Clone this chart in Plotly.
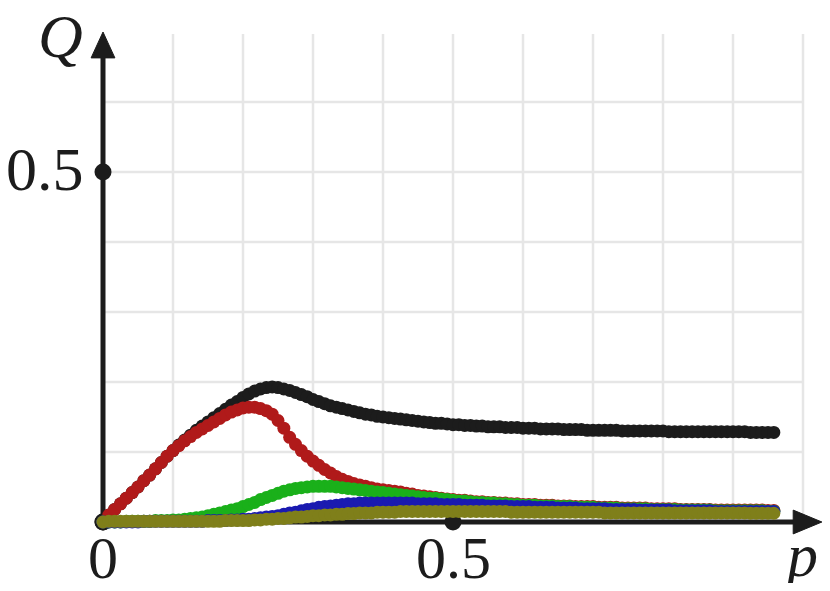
import plotly.graph_objects as go

# sample grid of the parameter p (step 1/120)
p = [k / 120 for k in range(116)]

q_black = [
    0.000, 0.010, 0.018, 0.026, 0.034, 0.042, 0.050, 0.059, 0.067, 0.076, 0.085, 0.094,
    0.102, 0.110, 0.117, 0.124, 0.131, 0.137, 0.143, 0.149, 0.155, 0.161, 0.167, 0.172,
    0.178, 0.183, 0.187, 0.190, 0.192, 0.193, 0.192, 0.190, 0.188, 0.185, 0.182, 0.179,
    0.175, 0.172, 0.169, 0.166, 0.164, 0.162, 0.160, 0.158, 0.156, 0.154, 0.153, 0.151,
    0.150, 0.149, 0.148, 0.147, 0.146, 0.145, 0.144, 0.143, 0.142, 0.141, 0.141, 0.140,
    0.139, 0.139, 0.138, 0.138, 0.137, 0.137, 0.136, 0.136, 0.136, 0.135, 0.135, 0.135,
    0.134, 0.134, 0.134, 0.133, 0.133, 0.133, 0.133, 0.132, 0.132, 0.132, 0.132, 0.131,
    0.131, 0.131, 0.131, 0.131, 0.131, 0.130, 0.130, 0.130, 0.130, 0.130, 0.130, 0.130,
    0.130, 0.129, 0.129, 0.129, 0.129, 0.129, 0.129, 0.129, 0.129, 0.129, 0.129, 0.129,
    0.129, 0.129, 0.129, 0.128, 0.128, 0.128, 0.128, 0.128,
]

q_red = [
    0.000, 0.010, 0.018, 0.026, 0.034, 0.042, 0.050, 0.059, 0.067, 0.076, 0.085, 0.094,
    0.102, 0.109, 0.116, 0.122, 0.128, 0.133, 0.138, 0.143, 0.148, 0.153, 0.157, 0.160,
    0.163, 0.164, 0.164, 0.162, 0.159, 0.154, 0.145, 0.134, 0.121, 0.111, 0.102, 0.094,
    0.087, 0.081, 0.075, 0.070, 0.065, 0.061, 0.058, 0.055, 0.053, 0.051, 0.049, 0.047,
    0.046, 0.045, 0.044, 0.043, 0.041, 0.040, 0.038, 0.037, 0.036, 0.035, 0.034, 0.033,
    0.032, 0.031, 0.031, 0.030, 0.029, 0.029, 0.028, 0.028, 0.027, 0.027, 0.026, 0.026,
    0.025, 0.025, 0.025, 0.024, 0.024, 0.024, 0.023, 0.023, 0.023, 0.022, 0.022, 0.022,
    0.022, 0.021, 0.021, 0.021, 0.021, 0.020, 0.020, 0.020, 0.020, 0.020, 0.019, 0.019,
    0.019, 0.019, 0.019, 0.018, 0.018, 0.018, 0.018, 0.018, 0.018, 0.017, 0.017, 0.017,
    0.017, 0.017, 0.017, 0.017, 0.017, 0.017, 0.0165, 0.0165,
]

q_green = [
    0.000, 0.000, 0.000, 0.000, 0.001, 0.001, 0.001, 0.001, 0.001, 0.002, 0.002, 0.002,
    0.003, 0.003, 0.004, 0.005, 0.006, 0.007, 0.009, 0.011, 0.013, 0.015, 0.017, 0.019,
    0.022, 0.025, 0.028, 0.032, 0.035, 0.038, 0.041, 0.044, 0.046, 0.048, 0.049, 0.050,
    0.051, 0.051, 0.051, 0.051, 0.050, 0.049, 0.048, 0.047, 0.046, 0.045, 0.044, 0.043,
    0.042, 0.041, 0.040, 0.039, 0.038, 0.037, 0.036, 0.035, 0.034, 0.034, 0.033, 0.032,
    0.031, 0.030, 0.030, 0.029, 0.028, 0.028, 0.027, 0.027, 0.026, 0.026, 0.025, 0.025,
    0.024, 0.024, 0.024, 0.023, 0.023, 0.023, 0.022, 0.022, 0.022, 0.021, 0.021, 0.021,
    0.021, 0.020, 0.020, 0.020, 0.020, 0.019, 0.019, 0.019, 0.019, 0.019, 0.018, 0.018,
    0.018, 0.018, 0.018, 0.017, 0.017, 0.017, 0.017, 0.017, 0.017, 0.016, 0.016, 0.016,
    0.016, 0.016, 0.016, 0.016, 0.016, 0.016, 0.0155, 0.0155,
]

q_blue = [
    0.000, 0.000, 0.000, 0.000, 0.000, 0.000, 0.000, 0.001, 0.001, 0.001, 0.001, 0.001,
    0.001, 0.001, 0.001, 0.001, 0.001, 0.001, 0.002, 0.002, 0.002, 0.002, 0.003, 0.003,
    0.004, 0.004, 0.005, 0.006, 0.007, 0.008, 0.009, 0.011, 0.013, 0.014, 0.016, 0.018,
    0.019, 0.021, 0.022, 0.023, 0.024, 0.025, 0.026, 0.026, 0.027, 0.027, 0.027, 0.027,
    0.027, 0.027, 0.027, 0.027, 0.027, 0.027, 0.026, 0.026, 0.026, 0.026, 0.025, 0.025,
    0.025, 0.025, 0.024, 0.024, 0.024, 0.024, 0.023, 0.023, 0.023, 0.023, 0.022, 0.022,
    0.022, 0.022, 0.021, 0.021, 0.021, 0.021, 0.020, 0.020, 0.020, 0.020, 0.019, 0.019,
    0.019, 0.019, 0.019, 0.018, 0.018, 0.018, 0.018, 0.018, 0.017, 0.017, 0.017, 0.017,
    0.017, 0.017, 0.016, 0.016, 0.016, 0.016, 0.016, 0.016, 0.016, 0.015, 0.015, 0.015,
    0.015, 0.015, 0.015, 0.015, 0.015, 0.015, 0.015, 0.015,
]

q_olive = [
    0.000, 0.001, 0.001, 0.001, 0.001, 0.001, 0.001, 0.001, 0.001, 0.001, 0.001, 0.001,
    0.001, 0.001, 0.001, 0.001, 0.001, 0.001, 0.001, 0.001, 0.001, 0.002, 0.002, 0.002,
    0.002, 0.002, 0.003, 0.003, 0.004, 0.004, 0.005, 0.005, 0.006, 0.007, 0.007, 0.008,
    0.009, 0.009, 0.010, 0.010, 0.011, 0.011, 0.012, 0.012, 0.013, 0.013, 0.013, 0.014,
    0.014, 0.014, 0.014, 0.015, 0.015, 0.015, 0.015, 0.015, 0.015, 0.015, 0.015, 0.015,
    0.015, 0.015, 0.015, 0.015, 0.015, 0.015, 0.015, 0.015, 0.015, 0.015, 0.014, 0.014,
    0.014, 0.014, 0.014, 0.014, 0.014, 0.014, 0.014, 0.014, 0.014, 0.014, 0.014, 0.014,
    0.014, 0.014, 0.013, 0.013, 0.013, 0.013, 0.013, 0.013, 0.013, 0.013, 0.013, 0.013,
    0.013, 0.013, 0.013, 0.013, 0.013, 0.013, 0.013, 0.013, 0.013, 0.013, 0.013, 0.013,
    0.013, 0.013, 0.013, 0.0125, 0.0125, 0.0125, 0.0125, 0.0125,
]

series = [
    ("black", q_black, "#1c1c1c"),
    ("red", q_red, "#b01a1a"),
    ("green", q_green, "#1ab01a"),
    ("blue", q_blue, "#1a1ab0"),
    ("olive", q_olive, "#7f7f1a"),
]

grid_x = [0.1, 0.2, 0.3, 0.4, 0.5, 0.6, 0.7, 0.8, 0.9, 1.0]
grid_y = [0.1, 0.2, 0.3, 0.4, 0.5, 0.6]
tick_x = [0, 0.5]
tick_y = [0.5]

ink = "#1c1c1c"
serif = "Liberation Serif"

fig = go.Figure()

# tick dots on the axes
fig.add_trace(go.Scatter(
    x=[0] + tick_x, y=[0] + [0] * len(tick_x),
    mode="markers", marker=dict(size=17, color=ink), hoverinfo="skip"))
fig.add_trace(go.Scatter(
    x=[0] * len(tick_y), y=tick_y,
    mode="markers", marker=dict(size=17, color=ink), hoverinfo="skip"))

for name, q, col in series:
    fig.add_trace(go.Scatter(
        x=p, y=q, mode="markers", name=name,
        marker=dict(size=13, color=col, line=dict(width=0))))

shapes = []
for g in grid_x:
    shapes.append(dict(type="line", x0=g, x1=g, y0=0, y1=0.697, layer="below",
                       line=dict(color="#e6e6e6", width=2.5)))
for g in grid_y:
    shapes.append(dict(type="line", x0=0, x1=1.0, y0=g, y1=g, layer="below",
                       line=dict(color="#e6e6e6", width=2.5)))

# axes with arrowheads
shapes.append(dict(type="line", x0=0, x1=0, y0=0, y1=0.67, layer="below",
                   line=dict(color=ink, width=5)))
shapes.append(dict(type="path", path="M -0.017,0.663 L 0.017,0.663 L 0,0.7 Z",
                   fillcolor=ink, line=dict(color=ink, width=1), layer="below"))
shapes.append(dict(type="line", x0=0, x1=0.99, y0=0, y1=0, layer="below",
                   line=dict(color=ink, width=5)))
shapes.append(dict(type="path", path="M 0.986,-0.017 L 0.986,0.017 L 1.027,0 Z",
                   fillcolor=ink, line=dict(color=ink, width=1), layer="below"))

font = dict(family=serif, size=62, color=ink)
annotations = []
for t in tick_x:
    annotations.append(dict(x=t, y=-0.051, text=f"{t:g}", showarrow=False,
                            xanchor="center", yanchor="middle", height=56,
                            font=dict(family=serif, size=60, color=ink)))
for t in tick_y:
    annotations.append(dict(x=-0.025, y=t + 0.004, text=f"{t:g}", showarrow=False,
                            xanchor="right", yanchor="middle", font=font))
annotations.append(dict(x=-0.061, y=0.695, text="<i>Q</i>", showarrow=False,
                        xanchor="center", yanchor="middle", font=font))
annotations.append(dict(x=0.996, y=-0.047, text="<i>p</i>", showarrow=False,
                        xanchor="center", yanchor="middle", height=56,
                        font=font))

fig.update_layout(
    width=830, height=591,
    margin=dict(l=0, r=0, t=0, b=0),
    paper_bgcolor="white", plot_bgcolor="white",
    showlegend=False,
    shapes=shapes, annotations=annotations,
    xaxis=dict(range=[-103 / 700, 727 / 700], visible=False, fixedrange=True),
    yaxis=dict(range=[-69 / 700, 522 / 700], visible=False, fixedrange=True),
)

# drop the default page margin so the figure sits at the window's corner
fig.write_html("out.html", config={"displayModeBar": False},
               post_script="document.body.style.margin='0';")
